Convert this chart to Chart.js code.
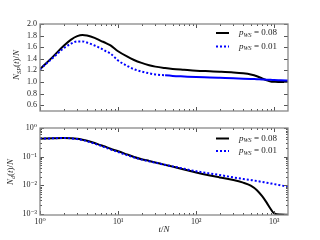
<!DOCTYPE html>
<html>
<head>
<meta charset="utf-8">
<script src="https://cdn.jsdelivr.net/npm/chart.js@4"></script>
<style>
    html, body { margin: 0; padding: 0; background: #fff; }
    #wrap { position: relative; width: 320px; height: 240px; overflow: hidden; }
    #wrap canvas { position: absolute; left: 0; }
    #topChart { top: 0; }
    #bottomChart { top: 120px; }
</style>
</head>
<body>
<div id="wrap">
    <canvas id="topChart" width="320" height="120"></canvas>
    <canvas id="bottomChart" width="320" height="120"></canvas>
</div>
<script>
const times = [1, 1.5, 2, 2.5, 3, 3.5, 4, 5, 6, 7, 8, 10, 13, 16, 20, 25, 30, 40, 50, 70,
    100, 150, 200, 300, 400, 500, 600, 700, 800, 900, 1000, 1200, 1500];

// N_sp(t)/N
const spHigh = [1.22, 1.45, 1.62, 1.73, 1.79, 1.81, 1.80, 1.76, 1.71, 1.67, 1.63, 1.53, 1.44, 1.38, 1.33, 1.29, 1.265, 1.24, 1.225, 1.21,
    1.195, 1.185, 1.178, 1.165, 1.15, 1.13, 1.10, 1.06, 1.03, 1.01, 1.005, 1.0, 1.0];
const spLow = [1.22, 1.43, 1.58, 1.66, 1.70, 1.70, 1.68, 1.63, 1.58, 1.53, 1.49, 1.37, 1.28, 1.22, 1.18, 1.15, 1.13, 1.115, 1.105, 1.095,
    1.085, 1.078, 1.072, 1.063, 1.058, 1.053, 1.048, 1.044, 1.04, 1.037, 1.034, 1.03, 1.025];

// N_d(t)/N
const dHigh = [0.42, 0.44, 0.45, 0.44, 0.42, 0.39, 0.36, 0.30, 0.25, 0.22, 0.19, 0.155, 0.12, 0.098, 0.082, 0.071, 0.063, 0.052, 0.045, 0.036,
    0.028, 0.022, 0.019, 0.0155, 0.0125, 0.0098, 0.0068, 0.0042, 0.0025, 0.0015, 0.00105, 0.00096, 0.00095];
const dLow = [0.42, 0.44, 0.45, 0.435, 0.41, 0.38, 0.345, 0.285, 0.24, 0.205, 0.18, 0.145, 0.113, 0.094, 0.079, 0.069, 0.062, 0.052, 0.046, 0.038,
    0.031, 0.026, 0.023, 0.019, 0.0168, 0.0155, 0.0142, 0.0132, 0.0124, 0.0117, 0.0111, 0.0101, 0.009];

const pValues = ['0.08', '0.01'];
const spTicks = [0.6, 0.8, 1.0, 1.2, 1.4, 1.6, 1.8, 2.0];
const dTicks = [0.001, 0.01, 0.1, 1];
const timeTicks = [1, 10, 100, 1000];

const SERIF = '"Liberation Serif", "DejaVu Serif", serif';
const SUP = { '0': '⁰', '1': '¹', '2': '²', '3': '³', '-': '⁻' };

function powLabel(v) {
    const e = String(Math.round(Math.log10(v)));
    return '10' + e.split('').map(c => SUP[c]).join('');
}

function toPoints(ys) {
    return times.map((t, i) => ({ x: t, y: ys[i] }));
}

function drawRich(ctx, parts, x, y, size, angle, align) {
    ctx.save();
    ctx.translate(x, y);
    ctx.rotate(angle);
    const fontOf = p => (p.italic ? 'italic ' : '') + (p.sub ? size * 0.68 : size) + 'px ' + SERIF;
    let width = 0;
    parts.forEach(p => { ctx.font = fontOf(p); width += ctx.measureText(p.text).width; });
    let cx = align === 'left' ? 0 : -width / 2;
    ctx.fillStyle = '#222';
    ctx.textBaseline = 'middle';
    ctx.textAlign = 'left';
    parts.forEach(p => {
        ctx.font = fontOf(p);
        ctx.fillText(p.text, cx, p.sub ? size * 0.25 : 0);
        cx += ctx.measureText(p.text).width;
    });
    ctx.restore();
}

function drawTicks(chart, yLog) {
    const { ctx, chartArea: a, scales } = chart;
    const line = (x1, y1, x2, y2) => {
        ctx.beginPath();
        ctx.moveTo(x1, y1);
        ctx.lineTo(x2, y2);
        ctx.stroke();
    };
    ctx.save();
    ctx.strokeStyle = '#555';
    ctx.lineWidth = 1;
    for (let d = 0; d <= 3; d++) {
        for (let m = 1; m <= 9; m++) {
            const v = m * Math.pow(10, d);
            if (v > scales.x.max) break;
            const x = Math.round(scales.x.getPixelForValue(v)) + 0.5;
            const len = m === 1 ? 4 : 2;
            line(x, a.bottom, x, a.bottom - len);
            line(x, a.top, x, a.top + len);
        }
    }
    if (yLog) {
        for (let d = -3; d <= 0; d++) {
            for (let m = 1; m <= 9; m++) {
                const v = m * Math.pow(10, d);
                if (v < scales.y.min || v > scales.y.max) continue;
                const y = Math.round(scales.y.getPixelForValue(v)) + 0.5;
                const len = m === 1 ? 4 : 2;
                line(a.left, y, a.left + len, y);
                line(a.right, y, a.right - len, y);
            }
        }
    } else {
        spTicks.forEach(v => {
            const y = Math.round(scales.y.getPixelForValue(v)) + 0.5;
            line(a.left, y, a.left + 4, y);
            line(a.right, y, a.right - 4, y);
        });
    }
    ctx.strokeStyle = '#888';
    ctx.lineWidth = 1.3;
    ctx.strokeRect(a.left, a.top, a.right - a.left, a.bottom - a.top);
    ctx.restore();
}

function drawLegend(ctx, x, y, gap) {
    ctx.save();
    ctx.lineWidth = 2;
    ctx.strokeStyle = '#000';
    ctx.beginPath();
    ctx.moveTo(x, y);
    ctx.lineTo(x + 13, y);
    ctx.stroke();
    ctx.strokeStyle = '#0000ff';
    ctx.setLineDash([2, 2]);
    ctx.beginPath();
    ctx.moveTo(x, y + gap);
    ctx.lineTo(x + 13, y + gap);
    ctx.stroke();
    ctx.restore();
    pValues.forEach((p, i) => {
        drawRich(ctx, [
            { text: 'p', italic: true },
            { text: 'WS', italic: true, sub: true },
            { text: ' = ' + p }
        ], x + 23, y + i * gap, 9, 0, 'left');
    });
}

function axisBase() {
    return {
        grid: { display: false, drawTicks: false },
        border: { display: false }
    };
}

function makeChart(id, opts) {
    const ctx = document.getElementById(id).getContext('2d');
    return new Chart(ctx, {
        type: 'line',
        data: {
            datasets: [{
                data: toPoints(opts.high),
                borderColor: '#000',
                borderWidth: 2,
                order: 1
            }, {
                data: toPoints(opts.low),
                borderColor: '#0000ff',
                borderWidth: 2,
                borderDash: [2, 2],
                segment: opts.lowSegment,
                order: 0
            }]
        },
        options: {
            responsive: false,
            animation: false,
            devicePixelRatio: 1,
            layout: { padding: opts.padding },
            elements: {
                point: { radius: 0 },
                line: { cubicInterpolationMode: 'monotone', fill: false }
            },
            plugins: { legend: { display: false }, tooltip: { enabled: false } },
            scales: {
                x: Object.assign(axisBase(), {
                    type: 'logarithmic',
                    min: 1,
                    max: 1500,
                    afterBuildTicks: s => { s.ticks = timeTicks.map(v => ({ value: v })); },
                    afterFit: s => { s.height = opts.xHeight; },
                    ticks: {
                        display: opts.xLabels,
                        autoSkip: false,
                        maxRotation: 0,
                        padding: 2,
                        color: '#222',
                        font: { family: SERIF, size: 8 },
                        callback: v => powLabel(v)
                    }
                }),
                y: Object.assign(axisBase(), opts.y, {
                    afterFit: s => { s.width = 40; },
                    ticks: {
                        autoSkip: false,
                        padding: 3,
                        color: '#222',
                        font: { family: SERIF, size: 8 },
                        callback: opts.yLabel
                    }
                })
            }
        },
        plugins: [{
            id: 'decor',
            afterDraw: chart => opts.decor(chart)
        }]
    });
}

makeChart('topChart', {
    high: spHigh,
    low: spLow,
    lowSegment: { borderDash: c => (c.p0.parsed.x >= 40 ? [] : [2, 2]) },
    padding: { top: 24, right: 32, left: 0, bottom: 0 },
    xHeight: 9,
    xLabels: false,
    y: {
        type: 'linear',
        min: 0.5,
        max: 2.0,
        afterBuildTicks: s => { s.ticks = spTicks.map(v => ({ value: v })); }
    },
    yLabel: v => v.toFixed(1),
    decor: chart => {
        drawTicks(chart, false);
        drawRich(chart.ctx, [
            { text: 'N', italic: true },
            { text: 'SP', italic: true, sub: true },
            { text: '(' },
            { text: 't', italic: true },
            { text: ')/' },
            { text: 'N', italic: true }
        ], 17, 65, 9, -Math.PI / 2);
        drawLegend(chart.ctx, 216, 33, 13.5);
    }
});

makeChart('bottomChart', {
    high: dHigh,
    low: dLow,
    lowSegment: undefined,
    padding: { top: 8, right: 32, left: 0, bottom: 0 },
    xHeight: 25,
    xLabels: true,
    y: {
        type: 'logarithmic',
        min: 0.00093,
        max: 1,
        afterBuildTicks: s => { s.ticks = dTicks.map(v => ({ value: v })); }
    },
    yLabel: v => powLabel(v),
    decor: chart => {
        drawTicks(chart, true);
        drawRich(chart.ctx, [
            { text: 'N', italic: true },
            { text: 'd', italic: true, sub: true },
            { text: '(' },
            { text: 't', italic: true },
            { text: ')/' },
            { text: 'N', italic: true }
        ], 11, 52, 9, -Math.PI / 2);
        drawLegend(chart.ctx, 216, 18.5, 12.5);
        drawRich(chart.ctx, [
            { text: 't', italic: true },
            { text: '/' },
            { text: 'N', italic: true }
        ], 164, 110, 9, 0);
    }
});
</script>
</body>
</html>
